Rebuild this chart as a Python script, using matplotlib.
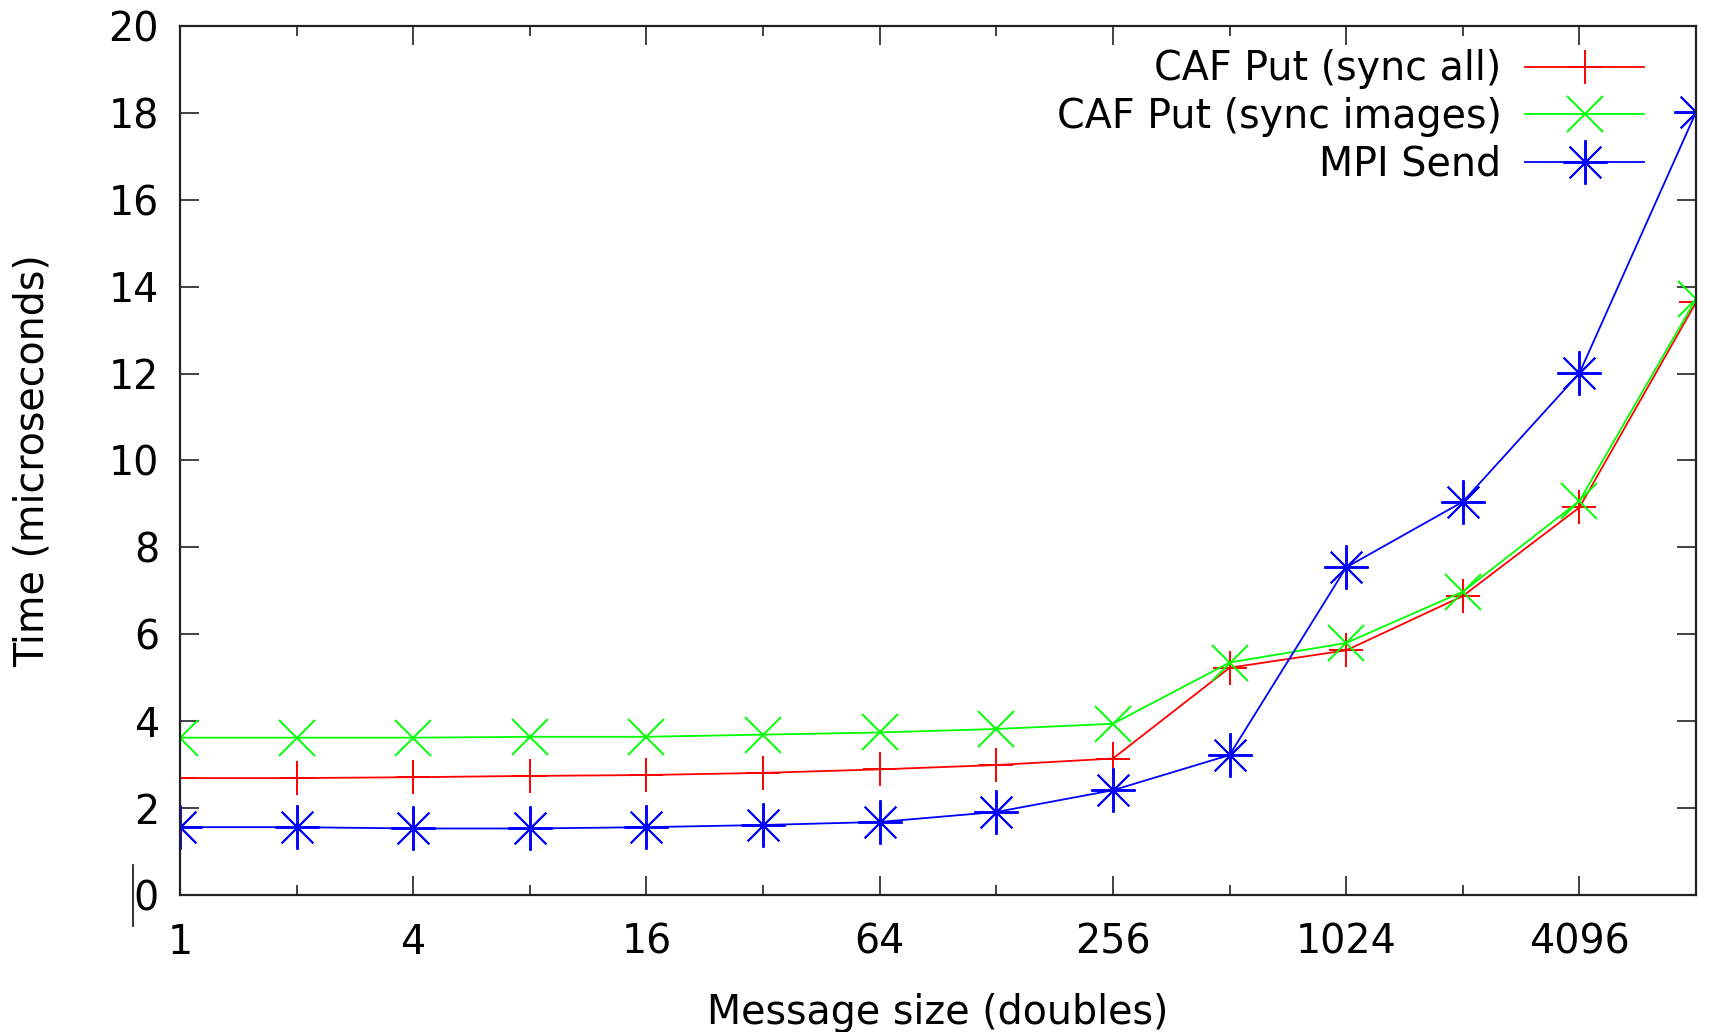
import matplotlib
matplotlib.use("Agg")
import matplotlib.pyplot as plt
from matplotlib.lines import Line2D
from matplotlib.ticker import FixedLocator, FixedFormatter

sizes = [1, 2, 4, 8, 16, 32, 64, 128, 256, 512, 1024, 2048, 4096, 8192]
caf_sync_all = [2.69, 2.69, 2.71, 2.74, 2.76, 2.81, 2.89, 2.99, 3.14, 5.23, 5.63, 6.88, 8.92, 13.64]
caf_sync_images = [3.62, 3.62, 3.62, 3.64, 3.64, 3.69, 3.74, 3.82, 3.94, 5.35, 5.80, 6.98, 9.07, 13.72]
mpi_send = [1.56, 1.56, 1.53, 1.53, 1.56, 1.61, 1.68, 1.91, 2.41, 3.22, 7.54, 9.05, 12.01, 18.02]

xtick_major = [1, 4, 16, 64, 256, 1024, 4096]
xtick_labels = ["1", "4", "16", "64", "256", "1024", "4096"]
xtick_minor = [2, 8, 32, 128, 512, 2048, 8192]
ytick_vals = [0, 2, 4, 6, 8, 10, 12, 14, 16, 18, 20]

FS = 28.5
plt.rcParams['font.family'] = ['DejaVu Sans']

fig = plt.figure(figsize=(17.12, 10.32), dpi=100)
ax = fig.add_axes([0.1051, 0.1328, 0.9907 - 0.1051, 0.9748 - 0.1328])

lw = 1.3
ax.plot(sizes, caf_sync_all, color="#ff0000", lw=lw, marker="+", ms=25, mew=1.4,
        label="CAF Put (sync all)")
ax.plot(sizes, caf_sync_images, color="#00ff00", lw=lw, marker="x", ms=26, mew=1.4,
        label="CAF Put (sync images)")
ax.plot(sizes, mpi_send, color="#0000ff", lw=lw, marker=(8, 2, 0), ms=32, mew=1.4,
        label="MPI Send")

ax.set_xscale("log", base=2)
ax.set_xlim(1, 8192)
ax.set_ylim(0, 20)

ax.xaxis.set_major_locator(FixedLocator(xtick_major))
ax.xaxis.set_major_formatter(FixedFormatter(xtick_labels))
ax.xaxis.set_minor_locator(FixedLocator(xtick_minor))
ax.xaxis.set_minor_formatter(FixedFormatter([""] * len(xtick_minor)))
ax.set_yticks(ytick_vals)
ax.set_yticklabels([str(v) for v in ytick_vals])

ax.tick_params(axis="both", which="major", direction="in", length=14, width=1.3,
               color="#333333", labelsize=FS, top=True, right=True)
ax.tick_params(axis="x", which="major", pad=20)
ax.tick_params(axis="y", which="major", pad=15)
ax.tick_params(axis="x", which="minor", direction="in", length=7, width=1.3,
               color="#333333", top=True)
for s in ax.spines.values():
    s.set_linewidth(1.6)
    s.set_color("#222222")

ax.set_xlabel("Message size (doubles)", fontsize=FS, labelpad=22)
ax.set_ylabel("Time (microseconds)", fontsize=FS, labelpad=40)

leg = ax.legend(loc="upper right", bbox_to_anchor=(0.984, 1.005), frameon=False,
                fontsize=FS, markerfirst=False, handlelength=3.0, handletextpad=0.6,
                labelspacing=0.19, borderpad=0.2)

# small vertical stroke artifact left of the "0" label
fig.add_artist(Line2D([133 / 1712, 133 / 1712], [1 - 865 / 1032, 1 - 926 / 1032],
                      transform=fig.transFigure, color="#222222", lw=1.3))

fig.savefig("out.png", dpi=100)
